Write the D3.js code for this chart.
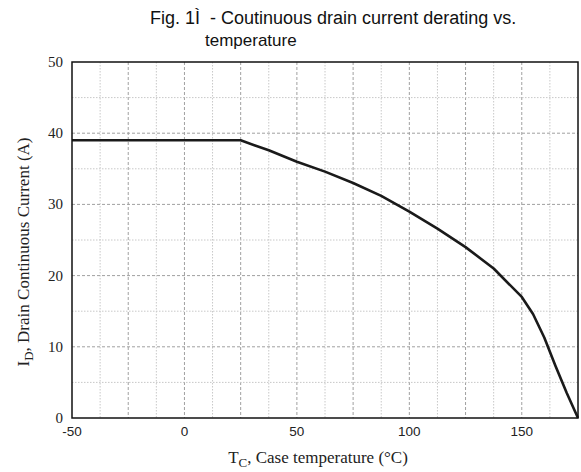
<!DOCTYPE html>
<html><head><meta charset="utf-8">
<script src="https://cdn.jsdelivr.net/npm/d3@7"></script>
<style>body{margin:0;background:#fff}svg{display:block}</style>
</head><body><svg id="c" width="581" height="472"></svg>
<script>
const temps = [-50, 25, 37.5, 50, 62.5, 75, 87.5, 100, 112.5, 125, 137.5, 150, 155, 160, 165, 170, 175];
const currents = [39, 39, 37.6, 36.0, 34.6, 33.0, 31.2, 29.0, 26.6, 24.0, 21.0, 17.0, 14.6, 11.3, 7.3, 3.5, 0];
const xTicks = [-50, 0, 50, 100, 150];
const yTicks = [0, 10, 20, 30, 40, 50];
const xMajorGrid = [-25, 0, 25, 50, 75, 100, 125, 150];
const xMinorGrid = [-37.5, -12.5, 12.5, 37.5, 62.5, 87.5, 112.5, 137.5, 162.5];
const yMajorGrid = [10, 20, 30, 40];
const yMinorGrid = [5, 15, 25, 35, 45];
const titleLines = ["Fig. 1Ì  - Coutinuous drain current derating vs.", "temperature"];

const svg = d3.select("#c");
const L = 72, R = 578, T = 62, B = 418;
const x = d3.scaleLinear().domain([-50, 175]).range([L, R]);
const y = d3.scaleLinear().domain([0, 50]).range([B, T]);

// grid
const g = svg.append("g");
g.selectAll(".vmin").data(xMinorGrid).join("line")
  .attr("x1", d => x(d)).attr("x2", d => x(d)).attr("y1", T).attr("y2", B)
  .attr("stroke", "#c8c8c8").attr("stroke-width", 1).attr("stroke-dasharray", "1.5,1.5");
g.selectAll(".vmaj").data(xMajorGrid).join("line")
  .attr("x1", d => x(d)).attr("x2", d => x(d)).attr("y1", T).attr("y2", B)
  .attr("stroke", "#a0a0a0").attr("stroke-width", 1).attr("stroke-dasharray", "3,2");
g.selectAll(".hmin").data(yMinorGrid).join("line")
  .attr("y1", d => y(d)).attr("y2", d => y(d)).attr("x1", L).attr("x2", R)
  .attr("stroke", "#c8c8c8").attr("stroke-width", 1).attr("stroke-dasharray", "1.5,1.5");
g.selectAll(".hmaj").data(yMajorGrid).join("line")
  .attr("y1", d => y(d)).attr("y2", d => y(d)).attr("x1", L).attr("x2", R)
  .attr("stroke", "#a0a0a0").attr("stroke-width", 1).attr("stroke-dasharray", "3,2");

// curve
const line = d3.line().x((d, i) => x(temps[i])).y(d => y(d)).curve(d3.curveLinear);
svg.append("path").datum(currents).attr("d", line)
  .attr("fill", "none").attr("stroke", "#1a1a1a").attr("stroke-width", 2.6)
  .attr("stroke-linejoin", "round");

// frame
svg.append("rect").attr("x", L).attr("y", T).attr("width", R - L).attr("height", B - T)
  .attr("fill", "none").attr("stroke", "#111").attr("stroke-width", 1.5);

// x ticks
svg.selectAll(".xt").data(xTicks).join("text")
  .attr("x", d => x(d)).attr("y", 436).attr("text-anchor", "middle")
  .attr("font-family", "Liberation Sans, Arial, sans-serif").attr("font-size", 13.5)
  .attr("fill", "#222").text(d => d);
// y ticks
svg.selectAll(".yt").data(yTicks).join("text")
  .attr("x", 63).attr("y", d => y(d) + 5).attr("text-anchor", "end")
  .attr("font-family", "Liberation Serif, Times New Roman, serif").attr("font-size", 15)
  .attr("fill", "#222").text(d => d);

// x label
const xl = svg.append("text").attr("x", 318).attr("y", 463).attr("text-anchor", "middle")
  .attr("font-family", "Liberation Serif, Times New Roman, serif").attr("font-size", 17).attr("fill", "#222");
xl.append("tspan").text("T");
xl.append("tspan").attr("font-size", 13).attr("dy", 4).text("C");
xl.append("tspan").attr("dy", -4).text(", Case temperature (°C)");

// y label
const yl = svg.append("text").attr("transform", "translate(29,252) rotate(-90)").attr("text-anchor", "middle")
  .attr("font-family", "Liberation Serif, Times New Roman, serif").attr("font-size", 17).attr("fill", "#222");
yl.append("tspan").text("I");
yl.append("tspan").attr("font-size", 13).attr("dy", 4).text("D");
yl.append("tspan").attr("dy", -4).text(", Drain Continuous Current (A)");

// title
svg.append("text").attr("x", 150).attr("y", 24).attr("xml:space", "preserve").style("white-space", "pre")
  .attr("font-family", "Liberation Sans, Arial, sans-serif").attr("font-size", 18).attr("fill", "#111")
  .text(titleLines[0]);
svg.append("text").attr("x", 205).attr("y", 46)
  .attr("font-family", "Liberation Sans, Arial, sans-serif").attr("font-size", 17).attr("fill", "#111")
  .text(titleLines[1]);
</script></body></html>
